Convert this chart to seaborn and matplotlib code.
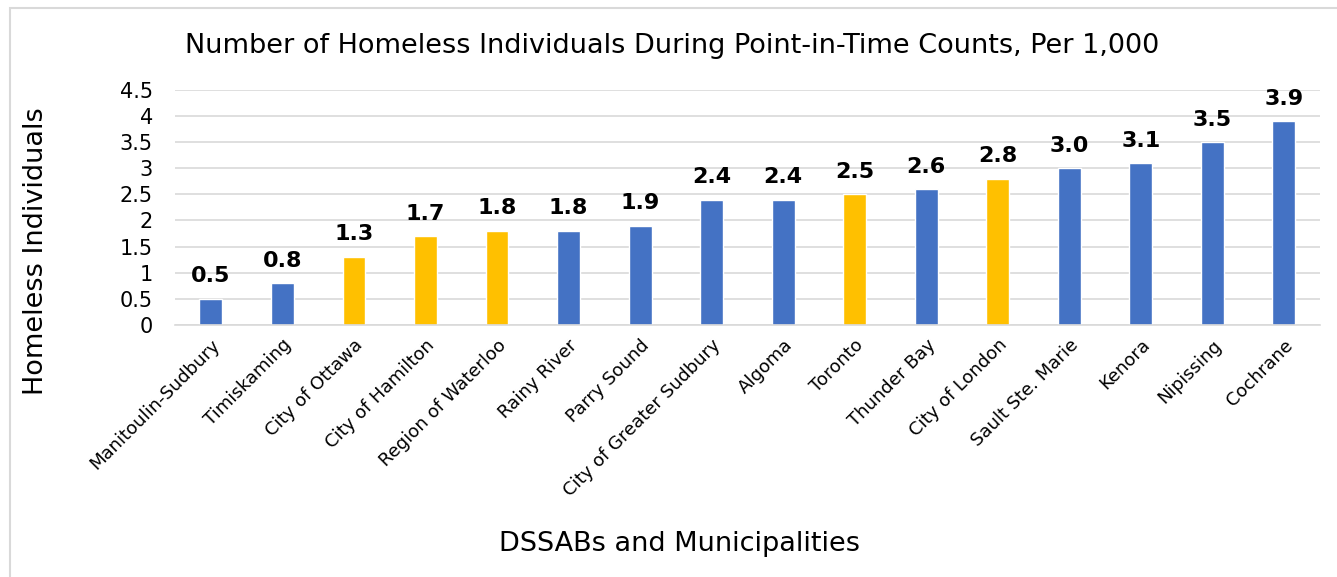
import matplotlib
matplotlib.use('Agg')
import matplotlib.pyplot as plt
import seaborn as sns
import pandas as pd
from matplotlib.patches import Rectangle

# Dados
regions = ['Manitoulin-Sudbury', 'Timiskaming', 'City of Ottawa', 'City of Hamilton',
           'Region of Waterloo', 'Rainy River', 'Parry Sound', 'City of Greater Sudbury',
           'Algoma', 'Toronto', 'Thunder Bay', 'City of London', 'Sault Ste. Marie',
           'Kenora', 'Nipissing', 'Cochrane']
values = [0.5, 0.8, 1.3, 1.7, 1.8, 1.8, 1.9, 2.4, 2.4, 2.5, 2.6, 2.8, 3.0, 3.1, 3.5, 3.9]
municipality = ['City of Ottawa', 'City of Hamilton', 'Region of Waterloo', 'Toronto', 'City of London']

df = pd.DataFrame({'region': regions, 'value': values})
palette = {r: ('#FFC000' if r in municipality else '#4472C4') for r in regions}

sns.set_style('white')
plt.rcParams['font.family'] = ['DejaVu Sans']
plt.rcParams['text.color'] = 'black'
plt.rcParams['xtick.color'] = 'black'
plt.rcParams['ytick.color'] = 'black'

fig = plt.figure(figsize=(13.37, 5.77), dpi=100)
ax = fig.add_axes([0.131, 0.437, 0.856, 0.407])

sns.barplot(data=df, x='region', y='value', hue='region', palette=palette,
            legend=False, width=0.32, ax=ax, saturation=1)

ax.set_ylim(0, 4.5)
ax.set_xlim(-0.5, len(regions) - 0.5)
ax.set_yticks([0, 0.5, 1, 1.5, 2, 2.5, 3, 3.5, 4, 4.5])
ax.set_yticklabels(['0', '0.5', '1', '1.5', '2', '2.5', '3', '3.5', '4', '4.5'], fontsize=15)
ax.yaxis.grid(True, color='#d9d9d9', linewidth=1.2)
ax.set_axisbelow(True)
for s in ['top', 'right', 'left']:
    ax.spines[s].set_visible(False)
ax.spines['bottom'].set_color('#d9d9d9')
ax.spines['bottom'].set_linewidth(1.2)
ax.tick_params(axis='y', length=0, pad=16)
ax.tick_params(axis='x', length=0, pad=8)
ax.set_xticks(range(len(regions)))
ax.set_xticklabels(regions, rotation=45, ha='right', rotation_mode='anchor', fontsize=13)

# Rótulos dos valores
for i, v in enumerate(values):
    ax.text(i, v + 0.24, f'{v:.1f}', ha='center', va='bottom', fontsize=16, fontweight='bold')

fig.text(0.503, 0.92, 'Number of Homeless Individuals During Point-in-Time Counts, Per 1,000',
         ha='center', va='center', fontsize=19.5)
ax.set_ylabel('')
ax.set_xlabel('')
fig.text(0.027, 0.565, 'Homeless Individuals', rotation=90, ha='center', va='center', fontsize=19.5)
fig.text(0.508, 0.057, 'DSSABs and Municipalities', ha='center', va='center', fontsize=19.5)

# Borda da figura
fig.patches.append(Rectangle((10 / 1337, -0.1), 1.2, 1.1 - 8 / 577, transform=fig.transFigure,
                             fill=False, edgecolor='#d9d9d9', linewidth=1.5))

fig.savefig('out.png', dpi=100)
plt.close()
